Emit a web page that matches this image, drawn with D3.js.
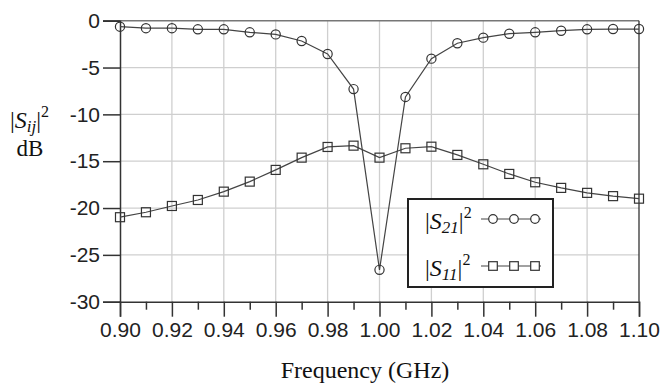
<!DOCTYPE html>
<html>
<head>
<meta charset="utf-8">
<script src="https://cdn.jsdelivr.net/npm/d3@7"></script>
<style>
  body { margin: 0; background: #fff; }
  svg { display: block; }
  .serif { font-family: "Liberation Serif", "Times New Roman", serif; fill: #111; }
</style>
</head>
<body>
<div class="chart"></div>
<script>
var freq = [0.90, 0.91, 0.92, 0.93, 0.94, 0.95, 0.96, 0.97, 0.98, 0.99, 1.00,
            1.01, 1.02, 1.03, 1.04, 1.05, 1.06, 1.07, 1.08, 1.09, 1.10];
var s21 = [-0.64, -0.8, -0.8, -0.92, -0.92, -1.24, -1.46, -2.17, -3.55, -7.3, -26.6,
           -8.14, -4.05, -2.41, -1.81, -1.39, -1.24, -1.07, -0.92, -0.89, -0.89];
var s11 = [-20.98, -20.45, -19.78, -19.14, -18.25, -17.18, -15.93, -14.62, -13.48, -13.34, -14.62,
           -13.62, -13.45, -14.33, -15.33, -16.36, -17.25, -17.85, -18.38, -18.73, -19.0];
var yTicks = [0, -5, -10, -15, -20, -25, -30];
var xMajor = [0.90, 0.92, 0.94, 0.96, 0.98, 1.00, 1.02, 1.04, 1.06, 1.08, 1.10];
var xMinor = [0.91, 0.93, 0.95, 0.97, 0.99, 1.01, 1.03, 1.05, 1.07, 1.09];

var width = 663, height = 390;
var plot = {left: 120, right: 639, top: 20.7, bottom: 301.7};

var x = d3.scaleLinear().domain([0.90, 1.10]).range([plot.left, plot.right]);
var y = d3.scaleLinear().domain([0, -30]).range([plot.top, plot.bottom]);

var svg = d3.select(".chart").append("svg")
    .attr("width", width)
    .attr("height", height);

// grid
svg.append("g").selectAll("line")
  .data(xMajor.slice(1, -1))
  .enter().append("line")
    .attr("x1", function(d) { return x(d); })
    .attr("x2", function(d) { return x(d); })
    .attr("y1", plot.top)
    .attr("y2", plot.bottom)
    .style("stroke", "#cfcfcf")
    .style("stroke-width", 1.3);

svg.append("g").selectAll("line")
  .data(yTicks.slice(1, -1))
  .enter().append("line")
    .attr("x1", plot.left)
    .attr("x2", plot.right)
    .attr("y1", function(d) { return y(d); })
    .attr("y2", function(d) { return y(d); })
    .style("stroke", "#cfcfcf")
    .style("stroke-width", 1.3);

// frame
svg.append("line")
  .attr("x1", plot.left - 17).attr("x2", plot.right)
  .attr("y1", plot.top).attr("y2", plot.top)
  .style("stroke", "#777").style("stroke-width", 1.5);
svg.append("line")
  .attr("x1", plot.right).attr("x2", plot.right)
  .attr("y1", plot.top).attr("y2", plot.bottom)
  .style("stroke", "#333").style("stroke-width", 1.3);

// y axis
var yAxis = d3.axisLeft(y)
  .tickValues(yTicks)
  .tickSize(17)
  .tickPadding(3)
  .tickFormat(function(d) { return String(d); });
var gY = svg.append("g")
  .attr("transform", "translate(" + plot.left + ",0)")
  .call(yAxis);
gY.select(".domain").style("stroke", "#333").style("stroke-width", 1.5);
gY.selectAll(".tick line").style("stroke", "#333").style("stroke-width", 1.5);
gY.selectAll(".tick text")
  .style("font-family", "'Liberation Sans', Arial, sans-serif")
  .style("font-size", "21px")
  .style("fill", "#222");

// x axis
var xAxis = d3.axisBottom(x)
  .tickValues(xMajor)
  .tickSize(15)
  .tickPadding(5)
  .tickFormat(d3.format(".2f"));
var gX = svg.append("g")
  .attr("transform", "translate(0," + plot.bottom + ")")
  .call(xAxis);
gX.select(".domain").style("stroke", "#333").style("stroke-width", 1.5);
gX.selectAll(".tick line").style("stroke", "#333").style("stroke-width", 1.5);
gX.selectAll(".tick text")
  .style("font-family", "'Liberation Sans', Arial, sans-serif")
  .style("font-size", "21px")
  .style("fill", "#222");

var xAxisMinor = d3.axisBottom(x)
  .tickValues(xMinor)
  .tickSize(8)
  .tickFormat("");
var gXm = svg.append("g")
  .attr("transform", "translate(0," + plot.bottom + ")")
  .call(xAxisMinor);
gXm.select(".domain").remove();
gXm.selectAll(".tick line").style("stroke", "#333").style("stroke-width", 1.5);

// series
var pts21 = freq.map(function(f, i) { return {f: f, v: s21[i]}; });
var pts11 = freq.map(function(f, i) { return {f: f, v: s11[i]}; });

var line = d3.line()
  .x(function(d) { return x(d.f); })
  .y(function(d) { return y(d.v); });

svg.append("path")
  .attr("d", line(pts21))
  .style("fill", "none").style("stroke", "#444").style("stroke-width", 1.2);
svg.append("path")
  .attr("d", line(pts11))
  .style("fill", "none").style("stroke", "#444").style("stroke-width", 1.2);

svg.append("g").selectAll("circle")
  .data(pts21)
  .enter().append("circle")
    .attr("cx", function(d) { return x(d.f); })
    .attr("cy", function(d) { return y(d.v); })
    .attr("r", 4.6)
    .style("fill", "none").style("stroke", "#333").style("stroke-width", 1.2);

svg.append("g").selectAll("rect")
  .data(pts11)
  .enter().append("rect")
    .attr("x", function(d) { return x(d.f) - 4.5; })
    .attr("y", function(d) { return y(d.v) - 4.5; })
    .attr("width", 9).attr("height", 9)
    .style("fill", "none").style("stroke", "#333").style("stroke-width", 1.2);

// legend
var legend = svg.append("g");
legend.append("rect")
  .attr("x", 408).attr("y", 199)
  .attr("width", 145).attr("height", 88)
  .style("fill", "#fff").style("stroke", "#222").style("stroke-width", 2);

var legendItems = [
  {sub: "21", y: 219, shape: "circle"},
  {sub: "11", y: 266, shape: "square"}
];
legendItems.forEach(function(item) {
  var t = legend.append("text")
    .attr("class", "serif")
    .attr("x", 425).attr("y", item.y + 10)
    .style("font-size", "24px");
  t.append("tspan").text("|");
  t.append("tspan").style("font-style", "italic").text("S");
  t.append("tspan").style("font-style", "italic").style("font-size", "17px").attr("dy", 4).text(item.sub);
  t.append("tspan").attr("dy", -4).text("|");
  t.append("tspan").style("font-size", "16px").attr("dy", -11).text("2");

  legend.append("line")
    .attr("x1", 481).attr("x2", 541)
    .attr("y1", item.y).attr("y2", item.y)
    .style("stroke", "#444").style("stroke-width", 1.2);
  [493, 514, 535].forEach(function(cx) {
    if (item.shape === "circle") {
      legend.append("circle")
        .attr("cx", cx).attr("cy", item.y).attr("r", 4.3)
        .style("fill", "#fff").style("stroke", "#333").style("stroke-width", 1.2);
    } else {
      legend.append("rect")
        .attr("x", cx - 4.3).attr("y", item.y - 4.3)
        .attr("width", 8.6).attr("height", 8.6)
        .style("fill", "#fff").style("stroke", "#333").style("stroke-width", 1.2);
    }
  });
});

// axis titles
var yl = svg.append("text")
  .attr("class", "serif")
  .attr("x", 10).attr("y", 128)
  .style("font-size", "24px");
yl.append("tspan").text("|");
yl.append("tspan").style("font-style", "italic").text("S");
yl.append("tspan").style("font-style", "italic").style("font-size", "17px").attr("dy", 4).text("ij");
yl.append("tspan").attr("dy", -4).text("|");
yl.append("tspan").style("font-size", "16px").attr("dy", -11).text("2");

svg.append("text")
  .attr("class", "serif")
  .attr("x", 30).attr("y", 156)
  .attr("text-anchor", "middle")
  .style("font-size", "23px")
  .text("dB");

svg.append("text")
  .attr("class", "serif")
  .attr("x", 365).attr("y", 378)
  .attr("text-anchor", "middle")
  .style("font-size", "24px")
  .text("Frequency (GHz)");
</script>
</body>
</html>
